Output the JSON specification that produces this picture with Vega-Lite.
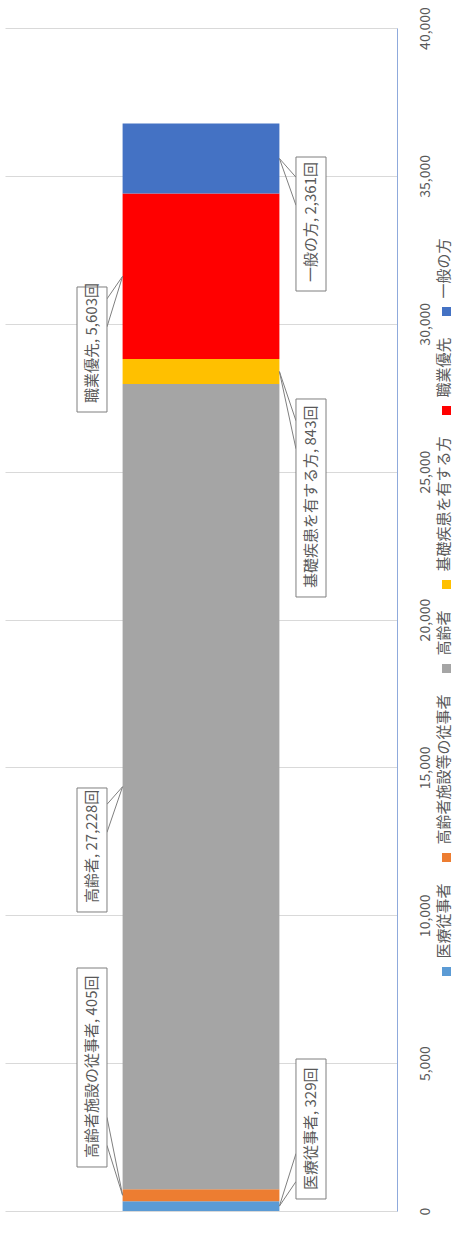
{
  "$schema": "https://vega.github.io/schema/vega-lite/v6.json",
  "width": 392,
  "height": 1183,
  "autosize": {"type": "none"},
  "padding": {"left": 5, "top": 28, "right": 71, "bottom": 29},
  "background": "white",
  "config": {"font": "Noto Sans CJK JP", "view": {"stroke": null}},
  "data": {
    "values": [
      {"group": "医療従事者", "count": 329, "side": "right", "note": "医療従事者, 329回", "note_lo": 406, "note_hi": 5139},
      {"group": "高齢者施設等の従事者", "count": 405, "side": "left", "note": "高齢者施設の従事者, 405回", "note_lo": 1488, "note_hi": 8216},
      {"group": "高齢者", "count": 27228, "side": "left", "note": "高齢者, 27,228回", "note_lo": 10110, "note_hi": 14303},
      {"group": "基礎疾患を有する方", "count": 843, "side": "right", "note": "基礎疾患を有する方, 843回", "note_lo": 20761, "note_hi": 27456},
      {"group": "職業優先", "count": 5603, "side": "left", "note": "職業優先, 5,603回", "note_lo": 27016, "note_hi": 31243},
      {"group": "一般の方", "count": 2361, "side": "right", "note": "一般の方, 2,361回", "note_lo": 31107, "note_hi": 35638}
    ]
  },
  "layer": [
    {
      "transform": [{"stack": "count", "groupby": [], "as": ["lo", "hi"]}],
      "mark": {"type": "rect"},
      "encoding": {
        "x": {"datum": 0.3, "type": "quantitative", "scale": {"domain": [0, 1], "nice": false, "zero": false}, "axis": null},
        "x2": {"datum": 0.7},
        "y": {
          "field": "lo", "type": "quantitative",
          "scale": {"domain": [0, 40000], "nice": false},
          "axis": {
            "orient": "right", "title": null,
            "values": [0, 5000, 10000, 15000, 20000, 25000, 30000, 35000, 40000],
            "format": ",d", "labelAngle": 270, "labelAlign": "center", "labelBaseline": "top",
            "labelPadding": 21, "ticks": false, "domain": true, "domainColor": "#8FAADC", "domainWidth": 1,
            "grid": true, "gridColor": "#D9D9D9", "gridWidth": 1,
            "labelFont": "Noto Sans CJK JP", "labelFontSize": 14, "labelColor": "#595959",
            "labelOverlap": false, "labelFlush": false
          }
        },
        "y2": {"field": "hi"},
        "color": {
          "field": "group", "type": "nominal",
          "scale": {
            "domain": ["一般の方", "職業優先", "基礎疾患を有する方", "高齢者", "高齢者施設等の従事者", "医療従事者"],
            "range": ["#4472C4", "#FF0000", "#FFC000", "#A5A5A5", "#ED7D31", "#5B9BD5"]
          },
          "legend": {
            "orient": "none", "legendX": 434, "legendY": 276, "direction": "vertical", "title": null,
            "symbolType": "square", "symbolSize": 81, "symbolStrokeWidth": 0,
            "labelFont": "Noto Sans CJK JP", "labelFontSize": 15, "labelColor": "#595959",
            "labelOffset": -10, "labelLimit": 400, "rowPadding": 21,
            "labelAlign": "left", "labelBaseline": "middle",
            "encoding": {"labels": {"angle": {"value": 270}, "dx": {"value": 13}}}
          }
        }
      }
    },
    {
      "transform": [
        {"stack": "count", "groupby": [], "as": ["lo", "hi"]},
        {"fold": ["lo", "hi"], "as": ["k", "v"]},
        {"aggregate": [{"op": "mean", "field": "v", "as": "mid"}], "groupby": ["group", "side", "note_lo", "note_hi"]},
        {"fold": ["mid", "mid", "note_lo", "note_hi"], "as": ["k2", "v2"]},
        {"aggregate": [{"op": "mean", "field": "v2", "as": "base"}], "groupby": ["group", "side", "mid"]}
      ],
      "layer": [
        {
          "transform": [{"filter": "datum.side === 'left'"}],
          "mark": {"type": "rule", "stroke": "#7F7F7F", "strokeWidth": 1, "y2Offset": -14},
          "encoding": {"x": {"datum": 0.3, "type": "quantitative"}, "x2": {"datum": 0.2602}, "y": {"field": "mid", "type": "quantitative"}, "y2": {"field": "base"}}
        },
        {
          "transform": [{"filter": "datum.side === 'left'"}],
          "mark": {"type": "rule", "stroke": "#7F7F7F", "strokeWidth": 1, "y2Offset": 14},
          "encoding": {"x": {"datum": 0.3, "type": "quantitative"}, "x2": {"datum": 0.2602}, "y": {"field": "mid", "type": "quantitative"}, "y2": {"field": "base"}}
        },
        {
          "transform": [{"filter": "datum.side === 'right'"}],
          "mark": {"type": "rule", "stroke": "#7F7F7F", "strokeWidth": 1, "y2Offset": -14},
          "encoding": {"x": {"datum": 0.7, "type": "quantitative"}, "x2": {"datum": 0.7423}, "y": {"field": "mid", "type": "quantitative"}, "y2": {"field": "base"}}
        },
        {
          "transform": [{"filter": "datum.side === 'right'"}],
          "mark": {"type": "rule", "stroke": "#7F7F7F", "strokeWidth": 1, "y2Offset": 14},
          "encoding": {"x": {"datum": 0.7, "type": "quantitative"}, "x2": {"datum": 0.7423}, "y": {"field": "mid", "type": "quantitative"}, "y2": {"field": "base"}}
        }
      ]
    },
    {
      "transform": [{"filter": "datum.side === 'left'"}],
      "mark": {"type": "rect", "fill": "white", "stroke": "#7F7F7F", "strokeWidth": 1},
      "encoding": {"x": {"datum": 0.1837, "type": "quantitative"}, "x2": {"datum": 0.2602}, "y": {"field": "note_lo", "type": "quantitative"}, "y2": {"field": "note_hi"}}
    },
    {
      "transform": [{"filter": "datum.side === 'right'"}],
      "mark": {"type": "rect", "fill": "white", "stroke": "#7F7F7F", "strokeWidth": 1},
      "encoding": {"x": {"datum": 0.7423, "type": "quantitative"}, "x2": {"datum": 0.8189}, "y": {"field": "note_lo", "type": "quantitative"}, "y2": {"field": "note_hi"}}
    },
    {
      "transform": [{"filter": "datum.side === 'left'"}],
      "mark": {"type": "text", "angle": 270, "align": "left", "baseline": "middle", "dx": 9, "fontSize": 15, "fill": "#595959", "font": "Noto Sans CJK JP"},
      "encoding": {"x": {"datum": 0.222, "type": "quantitative"}, "y": {"field": "note_lo", "type": "quantitative"}, "text": {"field": "note"}}
    },
    {
      "transform": [{"filter": "datum.side === 'right'"}],
      "mark": {"type": "text", "angle": 270, "align": "left", "baseline": "middle", "dx": 9, "fontSize": 15, "fill": "#595959", "font": "Noto Sans CJK JP"},
      "encoding": {"x": {"datum": 0.7806, "type": "quantitative"}, "y": {"field": "note_lo", "type": "quantitative"}, "text": {"field": "note"}}
    }
  ]
}
